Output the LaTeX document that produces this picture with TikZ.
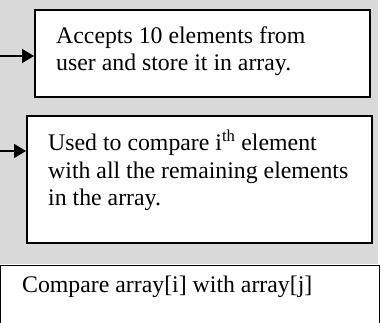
\documentclass[tikz,border=0pt]{standalone}
\usepackage{fontspec}
\setmainfont{Liberation Serif}
\usetikzlibrary{arrows.meta}
\definecolor{panelgray}{RGB}{217,217,217}
\tikzset{box/.style={draw, fill=white, line width=1.6pt, inner sep=0pt, anchor=north west},
  boxtext/.style={inner sep=0pt, anchor=base west, align=left, font=\fontsize{23.8}{27.8}\selectfont},
  feed/.style={-{Triangle[length=12pt, width=14pt]}, line width=1.3pt}}

\begin{document}
\begin{tikzpicture}[x=1pt, y=-1pt]
    \useasboundingbox (0,0) rectangle (384,323);
    \clip (0,0) rectangle (384,323);
    \fill[panelgray] (0,0) rectangle (378,264);
    % boxes
    \node[box, minimum width=335pt, minimum height=87pt] (accept) at (34,9) {};
    \node[box, minimum width=345pt, minimum height=127pt] (compare) at (26,115) {};
    \node[box, line width=1pt, minimum width=379pt, minimum height=90pt] (check) at (0,265) {};
    % texts (base = last line)
    \node[boxtext] (accepttxt) at (56,71) {Accepts 10 elements from\\user and store it in array.};
    \node[boxtext] (comparetxt) at (48,206) {Used to compare i\textsuperscript{th} element\\with all the remaining elements\\in the array.};
    \node[boxtext] (checktxt) at (22,293) {Compare array[i] with array[j]};
    % incoming arrows
    \coordinate (in1) at (0,56);
    \coordinate (in2) at (0,151);
    \draw[feed] (in1) -- (in1 -| accept.west);
    \draw[feed] (in2) -- (in2 -| compare.west);
\end{tikzpicture}
\end{document}
